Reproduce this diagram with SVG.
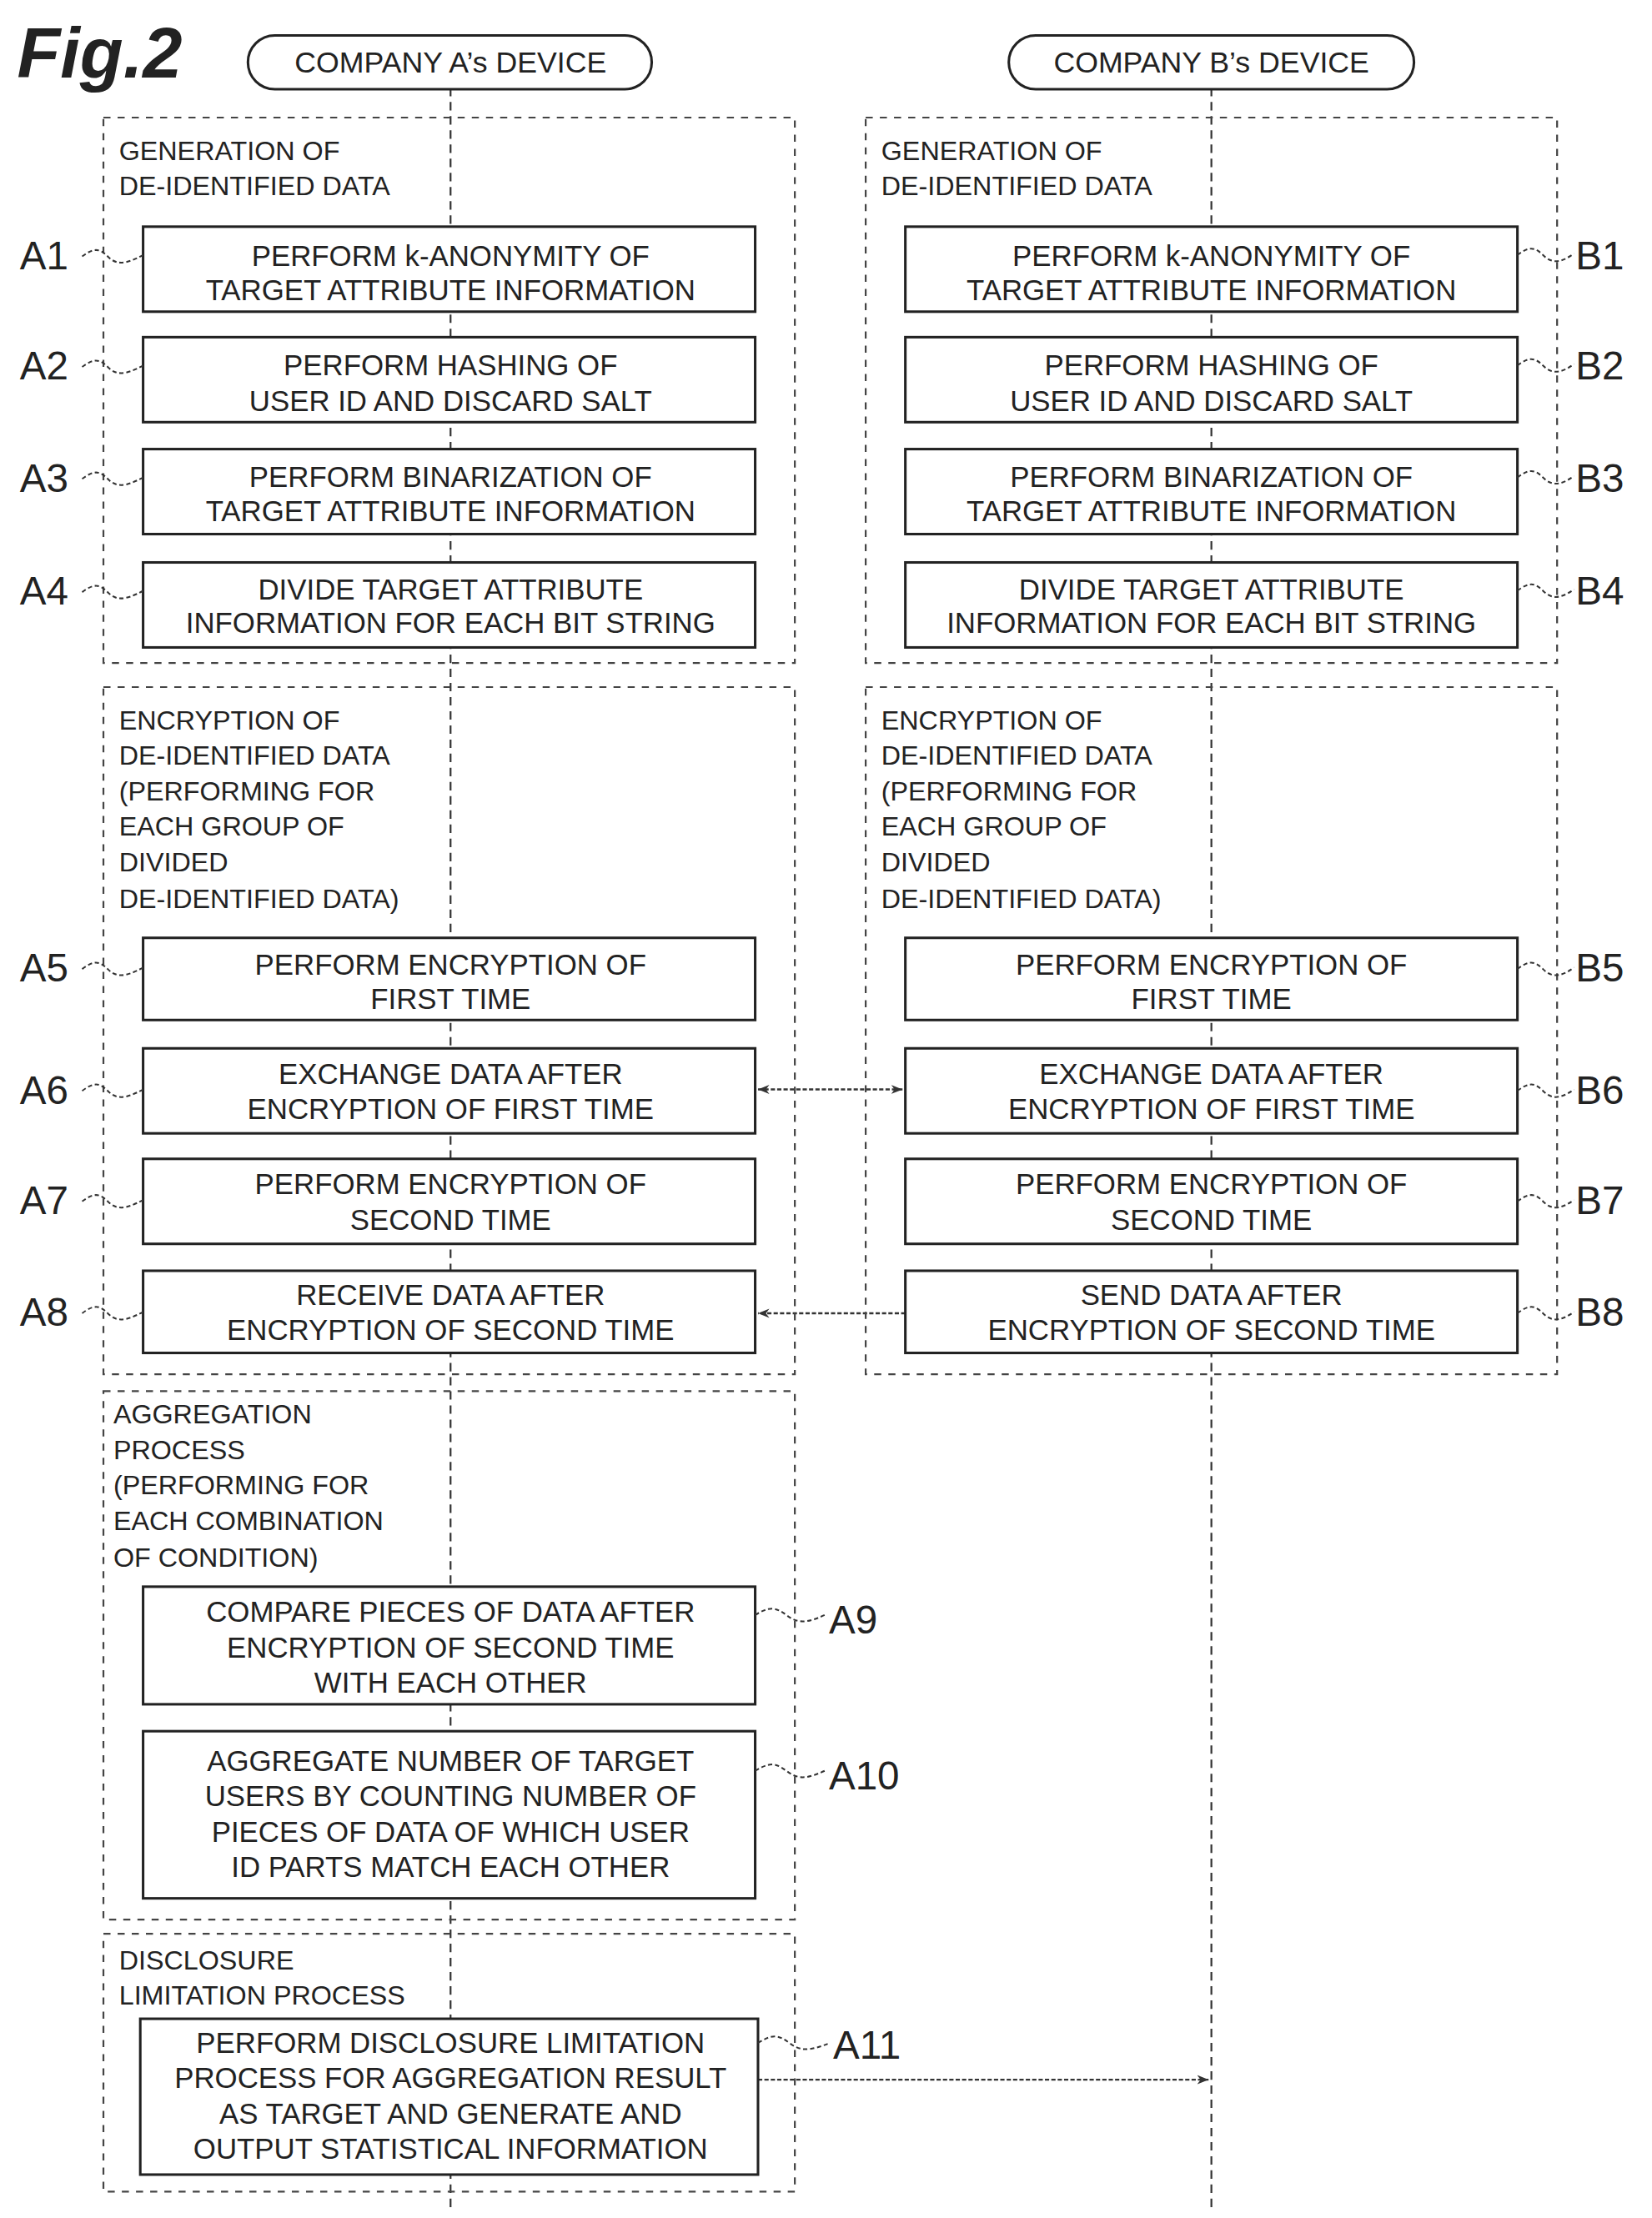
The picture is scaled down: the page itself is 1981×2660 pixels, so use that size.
<svg xmlns="http://www.w3.org/2000/svg" width="1981" height="2660" viewBox="0 0 1981 2660">
<style>
text{font-family:"Liberation Sans",Arial,sans-serif;fill:#222}
.bt{font-size:20.5px;text-anchor:middle}
.gl{font-size:19px}
.lb{font-size:28px}
.box{fill:#fff;stroke:#222;stroke-width:1.8}
.grp{fill:none;stroke:#444;stroke-width:1.3;stroke-dasharray:5 5}
.life{stroke:#333;stroke-width:1.3;stroke-dasharray:6 4;fill:none}
.ld{fill:none;stroke:#333;stroke-width:1.2;stroke-dasharray:3 2}
.ar{stroke:#333;stroke-width:1.4;stroke-dasharray:3 1.5;fill:none}
</style>
<defs>
<marker id="ah" viewBox="0 0 10 10" refX="10" refY="5" markerWidth="8" markerHeight="8" orient="auto-start-reverse" markerUnits="userSpaceOnUse"><path d="M0,1 L10,5 L0,9 L3,5 Z" fill="#333"/></marker>
</defs>
<rect width="1981" height="2660" fill="#fff"/>
<g transform="scale(1.699)">
<text x="12" y="55" style="font-size:50px;font-weight:bold;font-style:italic">Fig.2</text>
<g id="connectors">
<line class="life" x1="318" y1="62" x2="318" y2="1562"/>
<line class="life" x1="855" y1="62" x2="855" y2="1562"/>
<line class="ar" x1="535" y1="769" x2="637" y2="769" marker-start="url(#ah)" marker-end="url(#ah)"/>
<line class="ar" x1="639" y1="927" x2="535" y2="927" marker-end="url(#ah)"/>
<line class="ar" x1="535" y1="1468" x2="853" y2="1468" marker-end="url(#ah)"/>
</g>
<g id="devA"><rect x="175" y="25" width="285" height="38" rx="19" class="box"/><text x="318" y="51" class="bt" style="font-size:21px">COMPANY A’s DEVICE</text></g>
<g id="devB"><rect x="712" y="25" width="286" height="38" rx="19" class="box"/><text x="855" y="51" class="bt" style="font-size:21px">COMPANY B’s DEVICE</text></g>

<g id="grpA1"><rect x="73" y="83" width="488" height="385" class="grp"/><text class="gl" x="84" y="113">GENERATION OF</text><text class="gl" x="84" y="138">DE-IDENTIFIED DATA</text></g>
<g id="grpB1"><rect x="611" y="83" width="488" height="385" class="grp"/><text class="gl" x="622" y="113">GENERATION OF</text><text class="gl" x="622" y="138">DE-IDENTIFIED DATA</text></g>
<g id="grpA2"><rect x="73" y="485" width="488" height="485" class="grp"/><text class="gl" x="84" y="515">ENCRYPTION OF</text><text class="gl" x="84" y="540">DE-IDENTIFIED DATA</text><text class="gl" x="84" y="565">(PERFORMING FOR</text><text class="gl" x="84" y="590">EACH GROUP OF</text><text class="gl" x="84" y="615">DIVIDED</text><text class="gl" x="84" y="641">DE-IDENTIFIED DATA)</text></g>
<g id="grpB2"><rect x="611" y="485" width="488" height="485" class="grp"/><text class="gl" x="622" y="515">ENCRYPTION OF</text><text class="gl" x="622" y="540">DE-IDENTIFIED DATA</text><text class="gl" x="622" y="565">(PERFORMING FOR</text><text class="gl" x="622" y="590">EACH GROUP OF</text><text class="gl" x="622" y="615">DIVIDED</text><text class="gl" x="622" y="641">DE-IDENTIFIED DATA)</text></g>
<g id="grpA3"><rect x="73" y="982" width="488" height="373" class="grp"/><text class="gl" x="80" y="1005">AGGREGATION</text><text class="gl" x="80" y="1030">PROCESS</text><text class="gl" x="80" y="1055">(PERFORMING FOR</text><text class="gl" x="80" y="1080">EACH COMBINATION</text><text class="gl" x="80" y="1106">OF CONDITION)</text></g>
<g id="grpA4"><rect x="73" y="1365" width="488" height="182" class="grp"/><text class="gl" x="84" y="1390">DISCLOSURE</text><text class="gl" x="84" y="1415">LIMITATION PROCESS</text></g>

<g id="A1"><rect class="box" x="101" y="160" width="432" height="60"/><text class="bt" x="318" y="188">PERFORM k-ANONYMITY OF</text><text class="bt" x="318" y="212">TARGET ATTRIBUTE INFORMATION</text><text class="lb" x="14" y="190">A1</text><path class="ld" d="M58,181 c8,-6 12,-6 18,0 s12,6 25,-1"/></g>
<g id="A2"><rect class="box" x="101" y="238" width="432" height="60"/><text class="bt" x="318" y="265">PERFORM HASHING OF</text><text class="bt" x="318" y="290">USER ID AND DISCARD SALT</text><text class="lb" x="14" y="268">A2</text><path class="ld" d="M58,259 c8,-6 12,-6 18,0 s12,6 25,-1"/></g>
<g id="A3"><rect class="box" x="101" y="317" width="432" height="60"/><text class="bt" x="318" y="344">PERFORM BINARIZATION OF</text><text class="bt" x="318" y="368">TARGET ATTRIBUTE INFORMATION</text><text class="lb" x="14" y="347">A3</text><path class="ld" d="M58,338 c8,-6 12,-6 18,0 s12,6 25,-1"/></g>
<g id="A4"><rect class="box" x="101" y="397" width="432" height="60"/><text class="bt" x="318" y="423">DIVIDE TARGET ATTRIBUTE</text><text class="bt" x="318" y="447">INFORMATION FOR EACH BIT STRING</text><text class="lb" x="14" y="427">A4</text><path class="ld" d="M58,418 c8,-6 12,-6 18,0 s12,6 25,-1"/></g>
<g id="B1"><rect class="box" x="639" y="160" width="432" height="60"/><text class="bt" x="855" y="188">PERFORM k-ANONYMITY OF</text><text class="bt" x="855" y="212">TARGET ATTRIBUTE INFORMATION</text><text class="lb" x="1112" y="190">B1</text><path class="ld" d="M1071,180 c8,-6 12,-6 18,0 s12,6 22,-1"/></g>
<g id="B2"><rect class="box" x="639" y="238" width="432" height="60"/><text class="bt" x="855" y="265">PERFORM HASHING OF</text><text class="bt" x="855" y="290">USER ID AND DISCARD SALT</text><text class="lb" x="1112" y="268">B2</text><path class="ld" d="M1071,258 c8,-6 12,-6 18,0 s12,6 22,-1"/></g>
<g id="B3"><rect class="box" x="639" y="317" width="432" height="60"/><text class="bt" x="855" y="344">PERFORM BINARIZATION OF</text><text class="bt" x="855" y="368">TARGET ATTRIBUTE INFORMATION</text><text class="lb" x="1112" y="347">B3</text><path class="ld" d="M1071,337 c8,-6 12,-6 18,0 s12,6 22,-1"/></g>
<g id="B4"><rect class="box" x="639" y="397" width="432" height="60"/><text class="bt" x="855" y="423">DIVIDE TARGET ATTRIBUTE</text><text class="bt" x="855" y="447">INFORMATION FOR EACH BIT STRING</text><text class="lb" x="1112" y="427">B4</text><path class="ld" d="M1071,417 c8,-6 12,-6 18,0 s12,6 22,-1"/></g>

<g id="A5"><rect class="box" x="101" y="662" width="432" height="58"/><text class="bt" x="318" y="688">PERFORM ENCRYPTION OF</text><text class="bt" x="318" y="712">FIRST TIME</text><text class="lb" x="14" y="693">A5</text><path class="ld" d="M58,684 c8,-6 12,-6 18,0 s12,6 25,-1"/></g>
<g id="A6"><rect class="box" x="101" y="740" width="432" height="60"/><text class="bt" x="318" y="765">EXCHANGE DATA AFTER</text><text class="bt" x="318" y="790">ENCRYPTION OF FIRST TIME</text><text class="lb" x="14" y="779">A6</text><path class="ld" d="M58,770 c8,-6 12,-6 18,0 s12,6 25,-1"/></g>
<g id="A7"><rect class="box" x="101" y="818" width="432" height="60"/><text class="bt" x="318" y="843">PERFORM ENCRYPTION OF</text><text class="bt" x="318" y="868">SECOND TIME</text><text class="lb" x="14" y="857">A7</text><path class="ld" d="M58,848 c8,-6 12,-6 18,0 s12,6 25,-1"/></g>
<g id="A8"><rect class="box" x="101" y="897" width="432" height="58"/><text class="bt" x="318" y="921">RECEIVE DATA AFTER</text><text class="bt" x="318" y="946">ENCRYPTION OF SECOND TIME</text><text class="lb" x="14" y="936">A8</text><path class="ld" d="M58,927 c8,-6 12,-6 18,0 s12,6 25,-1"/></g>
<g id="B5"><rect class="box" x="639" y="662" width="432" height="58"/><text class="bt" x="855" y="688">PERFORM ENCRYPTION OF</text><text class="bt" x="855" y="712">FIRST TIME</text><text class="lb" x="1112" y="693">B5</text><path class="ld" d="M1071,684 c8,-6 12,-6 18,0 s12,6 22,-1"/></g>
<g id="B6"><rect class="box" x="639" y="740" width="432" height="60"/><text class="bt" x="855" y="765">EXCHANGE DATA AFTER</text><text class="bt" x="855" y="790">ENCRYPTION OF FIRST TIME</text><text class="lb" x="1112" y="779">B6</text><path class="ld" d="M1071,770 c8,-6 12,-6 18,0 s12,6 22,-1"/></g>
<g id="B7"><rect class="box" x="639" y="818" width="432" height="60"/><text class="bt" x="855" y="843">PERFORM ENCRYPTION OF</text><text class="bt" x="855" y="868">SECOND TIME</text><text class="lb" x="1112" y="857">B7</text><path class="ld" d="M1071,848 c8,-6 12,-6 18,0 s12,6 22,-1"/></g>
<g id="B8"><rect class="box" x="639" y="897" width="432" height="58"/><text class="bt" x="855" y="921">SEND DATA AFTER</text><text class="bt" x="855" y="946">ENCRYPTION OF SECOND TIME</text><text class="lb" x="1112" y="936">B8</text><path class="ld" d="M1071,927 c8,-6 12,-6 18,0 s12,6 22,-1"/></g>

<g id="A9"><rect class="box" x="101" y="1120" width="432" height="83"/><text class="bt" x="318" y="1145">COMPARE PIECES OF DATA AFTER</text><text class="bt" x="318" y="1170">ENCRYPTION OF SECOND TIME</text><text class="bt" x="318" y="1195">WITH EACH OTHER</text><text class="lb" x="585" y="1153">A9</text><path class="ld" d="M533,1140 c10,-6 14,-6 22,0 s14,6 27,0"/></g>
<g id="A10"><rect class="box" x="101" y="1222" width="432" height="118"/><text class="bt" x="318" y="1250">AGGREGATE NUMBER OF TARGET</text><text class="bt" x="318" y="1275">USERS BY COUNTING NUMBER OF</text><text class="bt" x="318" y="1300">PIECES OF DATA OF WHICH USER</text><text class="bt" x="318" y="1325">ID PARTS MATCH EACH OTHER</text><text class="lb" x="585" y="1263">A10</text><path class="ld" d="M533,1250 c10,-6 14,-6 22,0 s14,6 27,0"/></g>
<g id="A11"><rect class="box" x="99" y="1425" width="436" height="110"/><text class="bt" x="318" y="1449">PERFORM DISCLOSURE LIMITATION</text><text class="bt" x="318" y="1474">PROCESS FOR AGGREGATION RESULT</text><text class="bt" x="318" y="1499">AS TARGET AND GENERATE AND</text><text class="bt" x="318" y="1524">OUTPUT STATISTICAL INFORMATION</text><text class="lb" x="588" y="1453">A11</text><path class="ld" d="M535,1442 c10,-6 14,-6 22,0 s14,6 29,0"/></g>
</g>
</svg>
